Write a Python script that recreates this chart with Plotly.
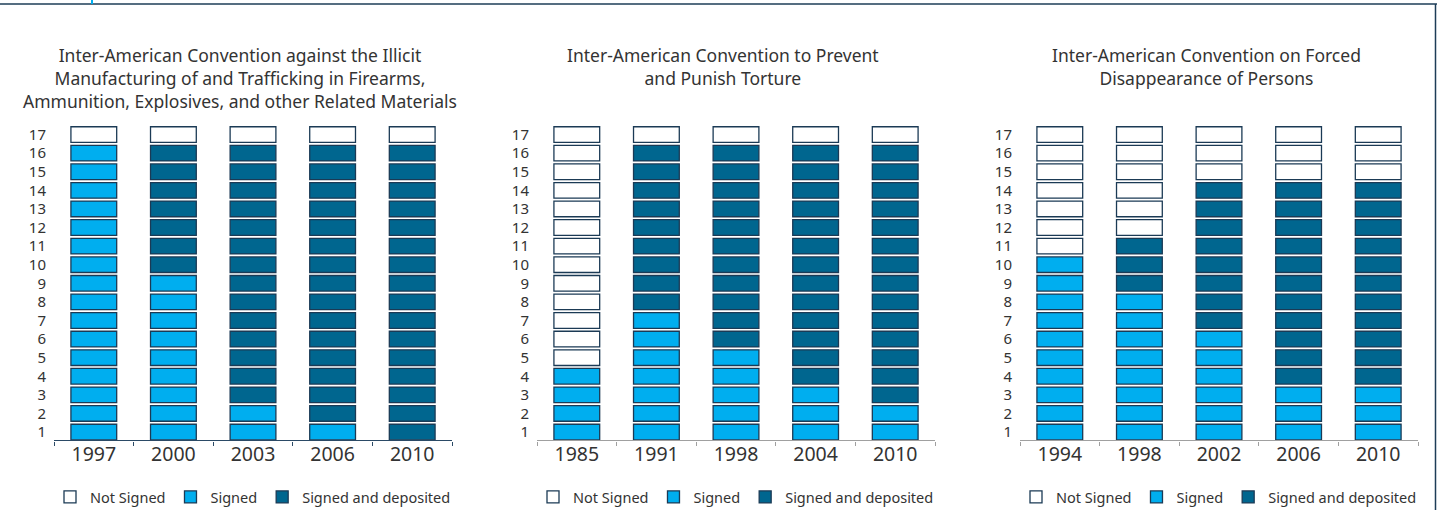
import plotly.graph_objects as go

W, H = 1437, 513
ROWS = 17

# --- data: number of member states per status, per year (bottom-up stacking) ---
firearms_title = ("Inter-American Convention against the Illicit<br>"
                  "Manufacturing of and Trafficking in Firearms,<br>"
                  "Ammunition, Explosives, and other Related Materials")
firearms_years = ["1997", "2000", "2003", "2006", "2010"]
firearms_signed = [16, 9, 2, 1, 0]
firearms_deposited = [0, 7, 14, 15, 16]

torture_title = "Inter-American Convention to Prevent<br>and Punish Torture"
torture_years = ["1985", "1991", "1998", "2004", "2010"]
torture_signed = [4, 7, 5, 3, 2]
torture_deposited = [0, 9, 11, 13, 14]

disappearance_title = "Inter-American Convention on Forced<br>Disappearance of Persons"
disappearance_years = ["1994", "1998", "2002", "2006", "2010"]
disappearance_signed = [10, 8, 6, 3, 3]
disappearance_deposited = [0, 3, 8, 11, 11]

row_labels = [str(r) for r in range(1, ROWS + 1)]

# --- styling ---
FONT = "Noto Sans, Open Sans, sans-serif"
TEXT = "#333333"
LIGHT = "#00AEEF"
DARK = "#00668F"
OUTLINE = "#1B3A55"
CELL_W = 0.575
CELL_H = 0.84

panels = [
    (firearms_title, firearms_years, firearms_signed, firearms_deposited, 54, 452, "#2B4A66"),
    (torture_title, torture_years, torture_signed, torture_deposited, 537, 935, "#A0A0A0"),
    (disappearance_title, disappearance_years, disappearance_signed, disappearance_deposited,
     1020, 1418, "#A0A0A0"),
]

y_bottom, y_top = 443, 126
y_dom = [1 - y_bottom / H, 1 - y_top / H]

fig = go.Figure()
layout = dict(annotations=[], shapes=[])

for i, (title, years, signed, deposited, px0, px1, axis_col) in enumerate(panels):
    n = i + 1
    xa = "x" if n == 1 else f"x{n}"
    ya = "y" if n == 1 else f"y{n}"
    leg = "legend" if n == 1 else f"legend{n}"

    # expand counts into individual cells
    cells = {"Not Signed": ([], []), "Signed": ([], []), "Signed and deposited": ([], [])}
    for year, s, d in zip(years, signed, deposited):
        for row in range(1, ROWS + 1):
            if row <= s:
                key = "Signed"
            elif row <= s + d:
                key = "Signed and deposited"
            else:
                key = "Not Signed"
            cells[key][0].append(year)
            cells[key][1].append(row - CELL_H / 2)

    for name, fill in [("Not Signed", "white"), ("Signed", LIGHT), ("Signed and deposited", DARK)]:
        xs, bases = cells[name]
        fig.add_trace(go.Bar(
            x=xs, y=[CELL_H] * len(xs), base=bases, width=CELL_W,
            marker=dict(color=fill, line=dict(color=OUTLINE, width=1.3)),
            name=name, legend=leg, xaxis=xa, yaxis=ya, hoverinfo="x+name",
        ))

    dom = [px0 / W, px1 / W]
    layout[f"xaxis{'' if n == 1 else n}"] = dict(
        domain=dom, anchor=ya, type="category", categoryorder="array",
        categoryarray=years, range=[-0.5, 4.5], tickson="boundaries",
        ticks="outside", ticklen=4, tickwidth=1.3, tickcolor=axis_col,
        showline=True, linecolor=axis_col, linewidth=1.3, showgrid=False,
        ticklabelstandoff=-4,
        tickfont=dict(family=FONT, size=19.5, color=TEXT), fixedrange=True,
    )
    # second axis over the first, only to let the boundary ticks cross the line
    layout[f"xaxis{n + 3}"] = dict(
        overlaying=xa, anchor=ya, type="linear", range=[-0.5, 4.5],
        tickmode="array", tickvals=[k - 0.5 for k in range(6)],
        ticks="inside", ticklen=4, tickwidth=1.3, tickcolor=axis_col,
        showticklabels=False, showgrid=False, zeroline=False, showline=False,
    )
    layout[f"yaxis{'' if n == 1 else n}"] = dict(
        domain=y_dom, anchor=xa, range=[0.55, 17.5],
        tickmode="array", tickvals=list(range(1, ROWS + 1)), ticktext=row_labels,
        ticks="", showline=False, showgrid=False, zeroline=False,
        ticklabelstandoff=7, tickfont=dict(family=FONT, size=15, color=TEXT),
        fixedrange=True,
    )
    layout[leg] = dict(
        orientation="h", x=(px0 + px1) / 2 / W, xanchor="center",
        y=1 - 500 / H, yanchor="middle", bgcolor="rgba(0,0,0,0)",
        font=dict(family=FONT, size=14.5, color=TEXT), traceorder="normal",
    )
    layout["annotations"].append(dict(
        text=title, xref="paper", yref="paper", x=((px0 + px1) / 2 - 13) / W,
        y=1 - 41 / H, xanchor="center", yanchor="top", showarrow=False,
        align="center", font=dict(family=FONT, size=17.5, color=TEXT),
    ))

# page frame: top rule, right rule and the small cyan marker
layout["shapes"] = [
    dict(type="line", xref="paper", yref="paper", x0=0, x1=1, y0=1 - 4 / H, y1=1 - 4 / H,
         line=dict(color="#1D3C57", width=1.5)),
    dict(type="line", xref="paper", yref="paper", x0=1435.5 / W, x1=1435.5 / W,
         y0=0, y1=1 - 4 / H, line=dict(color="#1D3C57", width=1.5)),
    dict(type="line", xref="paper", yref="paper", x0=92 / W, x1=92 / W, y0=1, y1=1 - 4 / H,
         line=dict(color=LIGHT, width=2)),
]

fig.update_layout(
    **layout,
    width=W, height=H, margin=dict(l=0, r=0, t=0, b=0),
    barmode="overlay", showlegend=True,
    paper_bgcolor="white", plot_bgcolor="white",
    font=dict(family=FONT, color=TEXT),
)

# the page body has a default 8px margin and may scroll; drop both so the figure fills the window
fig.write_html(
    "out.html", config={"displayModeBar": False},
    post_script="document.body.style.margin = '0'; document.body.style.overflow = 'hidden';",
)
